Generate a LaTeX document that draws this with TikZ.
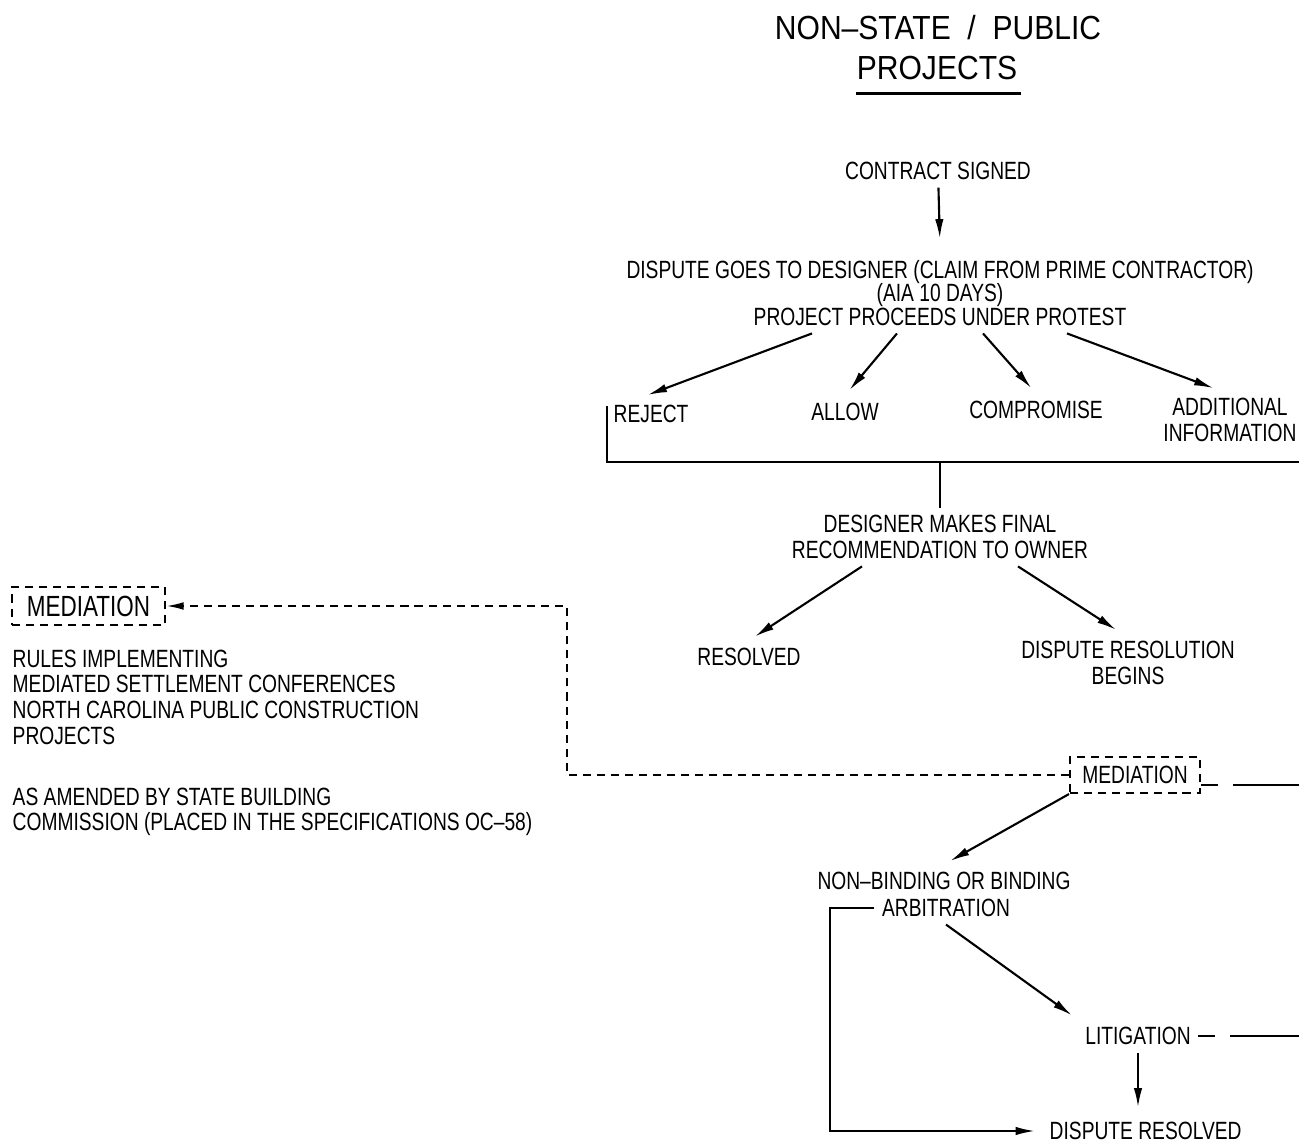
\documentclass[tikz,border=0pt]{standalone}
\usepackage{fontspec}
\setmainfont{Liberation Sans}[FakeStretch=0.77]
\newfontfamily\titlefont{Liberation Sans}[FakeStretch=0.9, Ligatures=TeX]
\usetikzlibrary{arrows.meta}

\begin{document}
\begin{tikzpicture}[
  every node/.style={font=\fontsize{7.1}{7.3}\selectfont, inner sep=2pt},
  lbl/.style={align=center},
  flow/.style={-{Latex[length=5.5pt,width=2.4pt]}, line width=0.6pt, shorten >=2pt},
  rule/.style={line width=0.6pt},
  medbox/.style={draw, line width=0.6pt, dash pattern=on 2.3pt off 1.7pt,
                 minimum height=0.36cm, minimum width=1.3cm},
  medlink/.style={-{Latex[length=5pt,width=2.2pt]}, line width=0.6pt,
                  dash pattern=on 2.3pt off 1.7pt},
  stub/.style={line width=0.6pt, dash pattern=on 0.17cm off 0.15cm on 3cm off 0pt}
]
  \useasboundingbox (0,0) rectangle (12.99,-11.41);

  % --- Title ---
  \node[font=\titlefont\fontsize{9.5}{11}\selectfont] (title) at (9.38,-0.28)
    {NON--STATE\enspace/\enspace PUBLIC};
  \node[font=\titlefont\fontsize{9.5}{11}\selectfont] (projects) at (9.37,-0.68)
    {PROJECTS};
  \draw[rule] ([xshift=2pt,yshift=-0.06cm]projects.south west)
    -- ([xshift=-1pt,yshift=-0.06cm]projects.south east);

  % --- Designer stage ---
  \node (contract) at (9.38,-1.71) {CONTRACT SIGNED};
  \node[lbl, font=\fontsize{7.1}{6.7}\selectfont] (claim) at (9.40,-2.93)
    {DISPUTE GOES TO DESIGNER (CLAIM FROM PRIME CONTRACTOR)\\(AIA 10 DAYS)\\PROJECT PROCEEDS UNDER PROTEST};
  \draw[flow] (contract) -- ([yshift=2pt]claim.north);

  \node[anchor=west] (reject) at (6.06,-4.14) {REJECT};
  \node (allow) at (8.45,-4.12) {ALLOW};
  \node (compromise) at (10.36,-4.10) {COMPROMISE};
  \node[lbl] (addinfo) at (12.30,-4.20) {ADDITIONAL\\INFORMATION};

  \draw[flow] ([xshift=-1.28cm]claim.south) -- ([xshift=-0.1cm]reject.north);
  \draw[flow] ([xshift=-0.43cm]claim.south) -- (allow.north);
  \draw[flow] ([xshift=0.43cm]claim.south) -- (compromise.north);
  \draw[flow] ([xshift=1.27cm]claim.south) -- ([xshift=-0.1cm]addinfo.north);

  % --- Bracket joining the outcomes ---
  \coordinate (brtop) at (6.07,-4.06);
  \coordinate (brend) at (12.99,-4.62);
  \draw[rule] (brtop) |- (brend);

  \node[lbl] (final) at (9.40,-5.37) {DESIGNER MAKES FINAL\\RECOMMENDATION TO OWNER};
  \draw[rule] (final.north |- brend) -- (final.north);

  \node (resolved) at (7.49,-6.57) {RESOLVED};
  \node[lbl] (begins) at (11.28,-6.63) {DISPUTE RESOLUTION\\BEGINS};
  \draw[flow] ([xshift=-0.78cm]final.south) -- (resolved.north);
  \draw[flow] ([xshift=0.78cm]final.south) -- ([xshift=-0.06cm]begins.north);

  % --- Mediation ---
  \node[medbox] (med2) at (11.35,-7.75) {MEDIATION};
  \node[medbox, font=\fontsize{8.3}{9}\selectfont, minimum width=1.53cm,
        minimum height=0.38cm] (med1) at (0.885,-6.06) {MEDIATION};
  \node[anchor=north west, align=left] (rules) at (0.05,-6.42)
    {RULES IMPLEMENTING\\MEDIATED SETTLEMENT CONFERENCES\\NORTH CAROLINA PUBLIC CONSTRUCTION\\PROJECTS};
  \node[anchor=north west, align=left] (amended) at (0.05,-7.80)
    {AS AMENDED BY STATE BUILDING\\COMMISSION (PLACED IN THE SPECIFICATIONS OC--58)};

  \coordinate (turn) at (5.67,-6.03);
  \draw[medlink] (med2.west) -| (turn |- med1.east) -- (med1.east);

  \coordinate (medout) at (12.99,-7.85);
  \draw[stub] (med2.east |- medout) -- (medout);

  % --- Arbitration and litigation ---
  \node (arbtop) at (9.44,-8.81) {NON--BINDING OR BINDING};
  \node (arb) at (9.46,-9.08) {ARBITRATION};
  \draw[flow] (med2.south west) -- (arbtop.north);

  \node (lit) at (11.38,-10.36) {LITIGATION};
  \node[anchor=west] (done) at (10.42,-11.31) {DISPUTE RESOLVED};
  \draw[flow] (arb.south) -- (lit.north west);
  \draw[flow] (lit.south) -- (lit.south |- done.north);

  \coordinate (loop) at (8.30,-9.08);
  \draw[flow] (arb.west) -- (loop) |- (done.west);

  \coordinate (litout) at (12.99,-10.36);
  \draw[stub] (lit.east) -- (litout);

\end{tikzpicture}
\end{document}
